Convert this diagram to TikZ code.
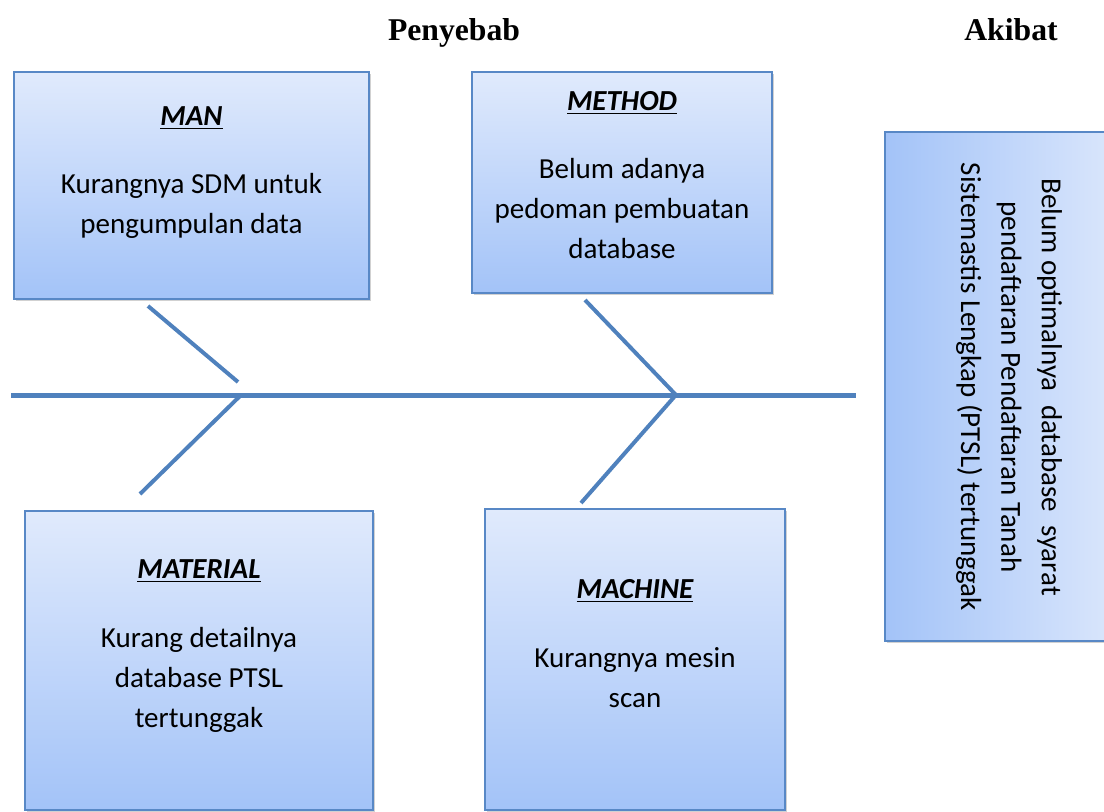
\documentclass[tikz,border=0pt]{standalone}
\usepackage{fontspec}
\setmainfont{Carlito}
\newfontfamily\headfont{Liberation Serif}
\usepackage{xcolor}
\usepackage{tikz}
\usetikzlibrary{positioning,shadows}
\definecolor{boneblue}{RGB}{79,129,189}
\definecolor{boxedge}{RGB}{88,136,198}
\definecolor{filltop}{RGB}{224,234,252}
\definecolor{fillbot}{RGB}{163,195,248}
\newcommand{\pxu}{0.3788pt}
\tikzset{
  causebox/.style={draw=boxedge, line width=0.8pt, top color=filltop, bottom color=fillbot,
                   inner sep=0pt, drop shadow={shadow xshift=0.7pt, shadow yshift=-0.9pt,
                   opacity=0.3, fill=black!60}},
  effbox/.style  ={draw=boxedge, line width=0.8pt, left color=fillbot, right color=filltop,
                   inner sep=0pt, drop shadow={shadow xshift=0.7pt, shadow yshift=-0.9pt,
                   opacity=0.3, fill=black!60}},
  cttl/.style    ={font=\fontsize{11}{13}\selectfont\bfseries\itshape, anchor=base, inner sep=0pt},
  ctxt/.style    ={align=center, font=\fontsize{11}{15.3}\selectfont, inner sep=0pt},
  hdr/.style     ={font=\headfont\fontsize{12}{14}\selectfont\bfseries, anchor=base, inner sep=0pt},
  spine/.style   ={draw=boneblue, line width=1.9pt},
  bone/.style    ={draw=boneblue, line width=1.5pt},
}

\begin{document}
\begin{tikzpicture}[x=\pxu,y=-\pxu]
\path[use as bounding box,clip] (0,0) rectangle (1104,811);

% headings
\node[hdr] (cause) at (454,40) {Penyebab};
\node[hdr] (effect) at (1011,40) {Akibat};

% cause boxes
\node[causebox, minimum width=355*\pxu, minimum height=227*\pxu] (man) at (191.5,185.5) {};
\node[causebox, minimum width=300*\pxu, minimum height=221*\pxu] (method) at (622,182.5) {};
\node[causebox, minimum width=348*\pxu, minimum height=299*\pxu] (material) at (199,660.5) {};
\node[causebox, minimum width=300*\pxu, minimum height=301*\pxu] (machine) at (635,659.5) {};

\node[cttl] (manT) at (191.5,125) {\underline{MAN}};
\node[ctxt] (manX) at (191.5,206) {Kurangnya SDM untuk\\pengumpulan data};
\node[cttl] (methodT) at (622,110) {\underline{METHOD}};
\node[ctxt] (methodX) at (622,208.5) {Belum adanya\\pedoman pembuatan\\database};
\node[cttl] (materialT) at (199,578) {\underline{MATERIAL}};
\node[ctxt] (materialX) at (199,680) {Kurang detailnya\\database PTSL\\tertunggak};
\node[cttl] (machineT) at (635,598) {\underline{MACHINE}};
\node[ctxt] (machineX) at (635,677.5) {Kurangnya mesin\\scan};

% effect box
\node[effbox, minimum width=255*\pxu, minimum height=509*\pxu] (akibat) at (1012.5,386.5) {};
\node[ctxt, rotate=-90] (akibatX) at (1009,387)
  {Belum optimalnya \hspace{2.5pt}database \hspace{2.5pt}syarat\\pendaftaran Pendaftaran Tanah\\Sistemastis Lengkap (PTSL) tertunggak};

% fish bone
\coordinate (tail) at (11,395);
\coordinate (head) at (856,395);
\coordinate (ulA) at (148,306);
\coordinate (ulB) at (238,382);
\coordinate (llA) at (240,396);
\coordinate (llB) at (140,494);
\coordinate (urA) at (585,300);
\coordinate (urB) at (676,395);
\coordinate (lrA) at (675,396);
\coordinate (lrB) at (581,503);
\draw[spine] (tail) -- (head);
\draw[bone] (ulA) -- (ulB);
\draw[bone] (llA) -- (llB);
\draw[bone] (urA) -- (urB);
\draw[bone] (lrA) -- (lrB);
\end{tikzpicture}
\end{document}
